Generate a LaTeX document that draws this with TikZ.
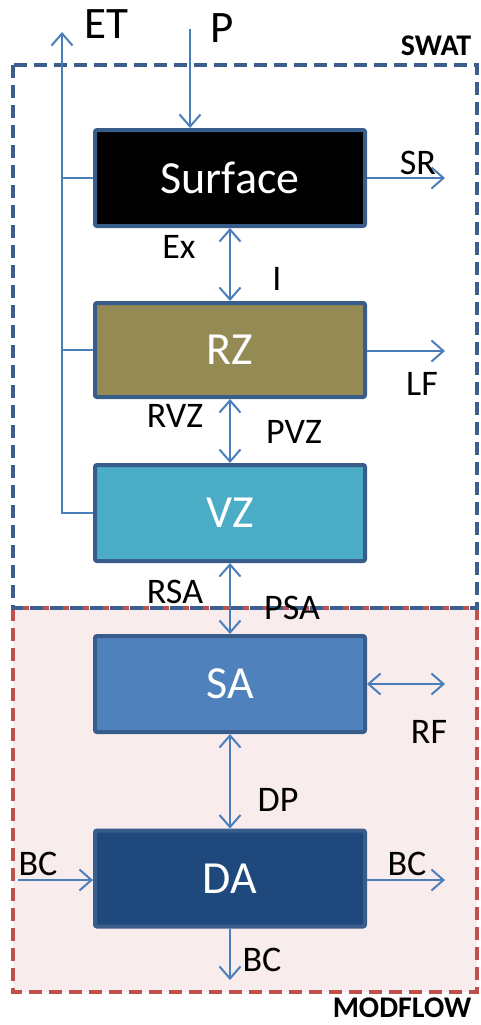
\documentclass[tikz,border=0pt]{standalone}
\usepackage{fontspec}
\setmainfont{Carlito}
\usetikzlibrary{arrows.meta}
\definecolor{arr}{HTML}{4A7EBB}
\definecolor{bord}{HTML}{385D8A}
\definecolor{swatc}{HTML}{3B5E8C}
\definecolor{redc}{HTML}{C0504D}
\definecolor{pinkf}{HTML}{F8ECEC}
\definecolor{rzf}{HTML}{948A54}
\definecolor{vzf}{HTML}{4BACC6}
\definecolor{saf}{HTML}{4F81BD}
\definecolor{daf}{HTML}{1F497D}
\tikzset{
  flow/.style={draw=arr, line width=2pt, -{Straight Barb[length=12pt,width=21pt,line width=2pt]}},
  dflow/.style={draw=arr, line width=2pt, {Straight Barb[length=12pt,width=21pt,line width=2pt]}-{Straight Barb[length=12pt,width=21pt,line width=2pt]}},
  pline/.style={draw=arr, line width=2pt},
  zone/.style={draw=bord, line width=4pt, rounded corners=2pt, minimum width=270pt, minimum height=96pt, inner sep=0pt, text=white, font=\fontsize{46}{50}\selectfont},
  lab/.style={inner sep=0pt, font=\fontsize{36}{40}\selectfont},
  big/.style={inner sep=0pt, font=\fontsize{45}{50}\selectfont},
  frame/.style={line width=4pt, dash pattern=on 13pt off 7pt},
  title/.style={inner sep=0pt, font=\bfseries\fontsize{30}{32}\selectfont}
}
\begin{document}
\begin{tikzpicture}[x=1pt,y=-1pt]
\useasboundingbox (0,0) rectangle (481,1025);
% frames
\fill[pinkf] (13,608) rectangle (477,992);
\draw[frame, draw=redc] (13,608) rectangle (477,992);
\draw[frame, draw=swatc] (13,65) rectangle (477,608);
\node[title] (swat) at (436,46) {SWAT};
\node[title] (modflow) at (402,1008) {MODFLOW};
% boxes
\node[zone, fill=black] (surf) at (230,178) {Surface};
\node[zone, fill=rzf, minimum height=94pt] (rz) at (230,350) {RZ};
\node[zone, fill=vzf] (vz) at (230,513) {VZ};
\node[zone, fill=saf] (sa) at (230,684) {SA};
\node[zone, fill=daf] (da) at (230,878.5) {DA};
% free ends
\coordinate (ettop) at (62,32);
\coordinate (ptop) at (190,29);
\coordinate (srend) at (445,178);
\coordinate (lfend) at (445,351);
\coordinate (rfend) at (445,684);
\coordinate (bcl) at (18,880);
\coordinate (bcr) at (445,880);
\coordinate (bcb) at (230,980);
% connectors
\draw[flow] (vz.west) -| (ettop);
\draw[pline] (surf.west) -- (surf.west -| ettop);
\draw[pline] (rz.west) -- (rz.west -| ettop);
\draw[flow] (ptop) -- (ptop |- surf.north);
\draw[flow] (surf.east |- srend) -- (srend);
\draw[flow] (rz.east |- lfend) -- (lfend);
\draw[dflow] (surf.south) -- (rz.north);
\draw[dflow] (rz.south) -- (vz.north);
\draw[dflow] (vz.south) -- (sa.north);
\draw[dflow] (sa.south) -- (da.north);
\draw[dflow] (sa.east |- rfend) -- (rfend);
\draw[flow] (bcl) -- (da.west |- bcl);
\draw[flow] (da.east |- bcr) -- (bcr);
\draw[flow] (da.south) -- (bcb);
% labels
\node[big] (et) at (106,24) {ET};
\node[big] (p) at (222,28) {P};
\node[lab] (sr) at (418,163) {SR};
\node[lab] (ex) at (179,247) {Ex};
\node[lab] (i) at (277,279) {I};
\node[lab] (lf) at (422,384) {LF};
\node[lab] (rvz) at (175,416) {RVZ};
\node[lab] (pvz) at (294,432) {PVZ};
\node[lab] (rsa) at (175,592) {RSA};
\node[lab] (psa) at (292,608) {PSA};
\node[lab] (rf) at (429,732) {RF};
\node[lab] (dp) at (278,800) {DP};
\node[lab] (bc1) at (38,864) {BC};
\node[lab] (bc2) at (407,864) {BC};
\node[lab] (bc3) at (262,960) {BC};
\end{tikzpicture}
\end{document}
